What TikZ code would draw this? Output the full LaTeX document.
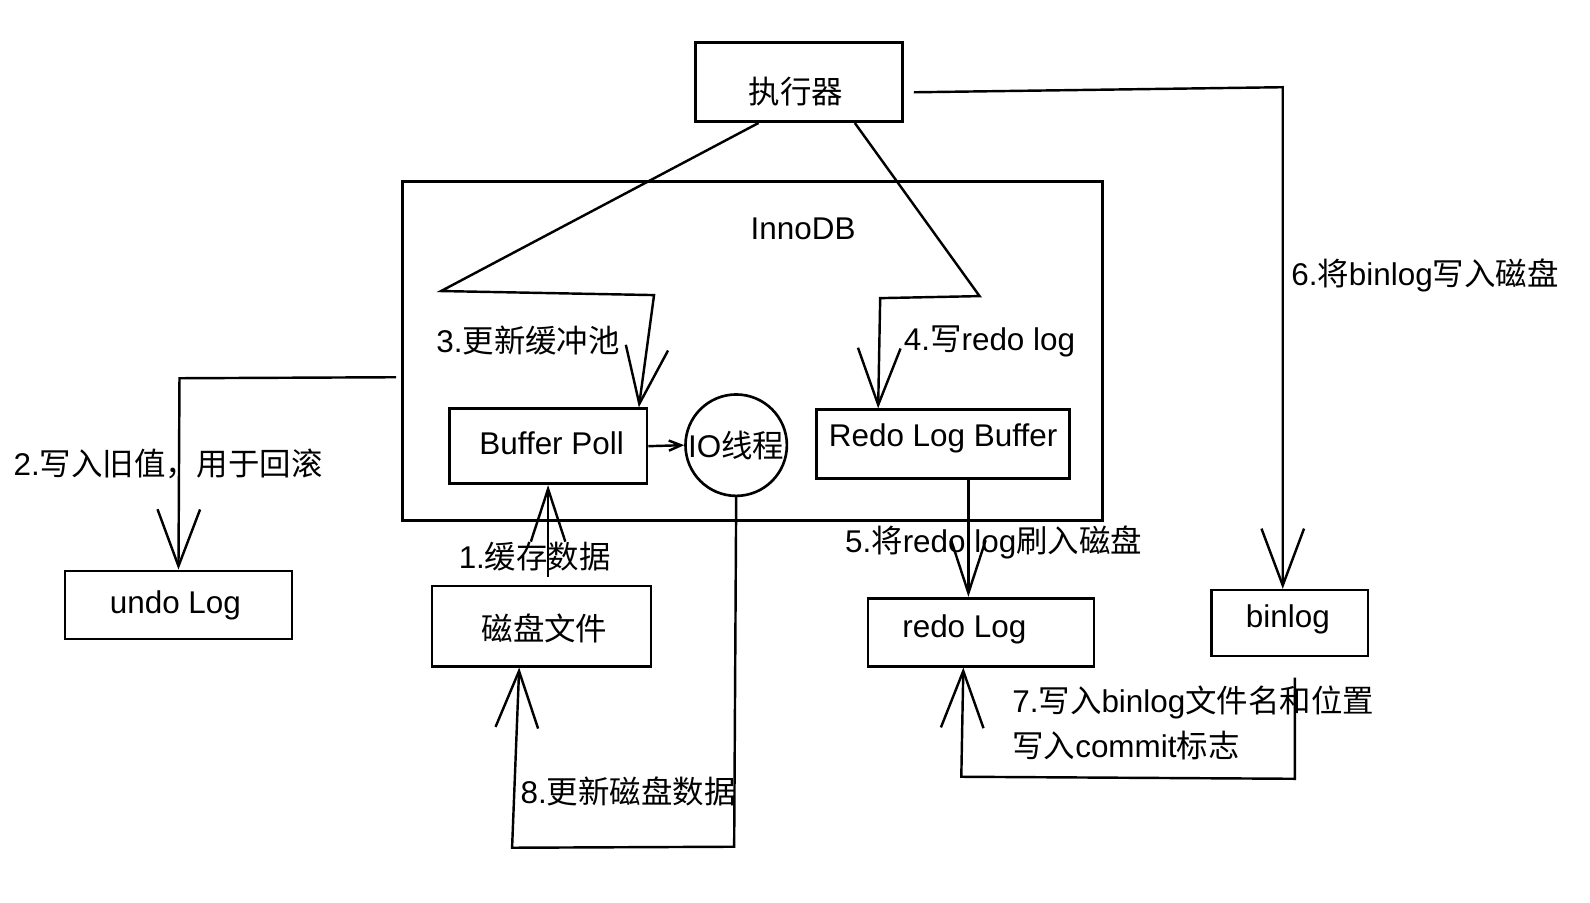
\documentclass[tikz,border=0pt]{standalone}
\usepackage{fontspec}
\setmainfont{Liberation Sans}
\newfontfamily\cjkfont{Noto Sans CJK SC}
\newcommand\zh[1]{{\cjkfont #1}}
\usetikzlibrary{arrows.meta}
\begin{document}
\begin{tikzpicture}[x=0.5pt,y=-0.5pt,
  every node/.style={font=\fontsize{15.5}{22}\selectfont, inner sep=0pt},
  box/.style={draw, line width=1.3pt},
  conn/.style={line width=1.2pt, line join=miter},
  arr/.style={conn, -{Straight Barb[length=28pt,width=21pt]}},
  narrowarr/.style={conn, -{Straight Barb[length=26pt,width=17pt]}},
  smallarr/.style={conn, -{Straight Barb[length=6pt,width=5pt]}},
  lbl/.style={anchor=west}]
\useasboundingbox (0,0) rectangle (1568,890);

% nodes
\node[box, minimum width=102pt, minimum height=39pt] (exec) at (788,81) {};
\node (exectext) at (785,90) {\zh{执行器}};
\node[box, minimum width=345pt, minimum height=167pt] (innodb) at (742,346) {};
\node (innolabel) at (792,226) {InnoDB};
\node[box, minimum width=97.5pt, minimum height=37pt] (bp) at (540.5,440) {};
\node (bptext) at (544,437) {Buffer Poll};
\node[draw, circle, line width=1.3pt, minimum size=50pt] (io) at (726,439) {IO\zh{线程}};
\node[box, minimum width=125pt, minimum height=34pt] (rlb) at (930,438) {};
\node (rlbtext) at (930,432) {Redo Log Buffer};
\node[box, minimum width=112pt, minimum height=33.5pt] (undo) at (176,596.5) {};
\node (undotext) at (173,597) {undo Log};
\node[box, minimum width=108pt, minimum height=39.5pt] (dfile) at (534,617.5) {};
\node (dfiletext) at (537,620) {\zh{磁盘文件}};
\node[box, minimum width=111.5pt, minimum height=33.5pt] (redo) at (967.5,623.5) {};
\node (redotext) at (951,621) {redo Log};
\node[box, minimum width=77pt, minimum height=32.5pt] (binlog) at (1272,614.5) {};
\node (binlogtext) at (1270,611) {binlog};

% connector 3
\coordinate (c3a) at (435,287);
\coordinate (c3b) at (645,291);
\draw[arr] ([xshift=-20pt]exec.south) -- (c3a) -- (c3b) -- ([xshift=44.75pt]bp.north);

% connector 4
\coordinate (c4a) at (966,292);
\coordinate (c4b) at (868,294);
\draw[arr] ([xshift=27.5pt]exec.south) -- (c4a) -- (c4b) -- ([xshift=-32pt]rlb.north);

% connector 2
\coordinate (c2) at (177,373);
\draw[arr] ([xshift=-2.5pt,yshift=-13pt]innodb.west) -- (c2) -- (undo.north);

% connector 1
\path (bp.south |- dfile.north) coordinate (c1);
\draw[narrowarr] ([yshift=4pt]c1) -- (bp.south);

% buffer -> io
\draw[smallarr] (bp.east) -- (io.west);

% connector 8
\coordinate (c8a) at (724,835);
\coordinate (c8b) at (505,836);
\draw[arr] (io.south) -- (c8a) -- (c8b) -- ([xshift=-11pt]dfile.south);

% connector 5
\coordinate (c5) at ([xshift=12.5pt]rlb.south);
\draw[narrowarr] (c5) -- (c5 |- redo.north);

% connector 6
\coordinate (c6s) at ([xshift=5pt,yshift=-5pt]exec.east);
\coordinate (c6) at (1265,86);
\draw[arr] (c6s) -- (c6) -- (c6 |- binlog.north);

% connector 7
\coordinate (c7s) at ([xshift=2.5pt,yshift=-10pt]binlog.south);
\coordinate (c7a) at (1277,768);
\coordinate (c7b) at (948,766);
\draw[arr] (c7s) -- (c7a) -- (c7b) -- ([xshift=-8.75pt]redo.south);

% labels
\node[lbl] (l3) at (430,336) {3.\zh{更新缓冲池}};
\node[lbl] (l4) at (891,337) {4.\zh{写}redo log};
\node[lbl] (l2) at (13,457) {2.\zh{写入旧值，用于回滚}};
\node[lbl] (l1) at (452,549) {1.\zh{缓存数据}};
\node[lbl] (l5) at (833,535) {5.\zh{将}redo log\zh{刷入磁盘}};
\node[lbl] (l6) at (1273,272) {6.\zh{将}binlog\zh{写入磁盘}};
\node[lbl, align=left] (l7) at (998,713) {7.\zh{写入}binlog\zh{文件名和位置}\\\zh{写入}commit\zh{标志}};
\node[lbl] (l8) at (513,780) {8.\zh{更新磁盘数据}};
\end{tikzpicture}
\end{document}
